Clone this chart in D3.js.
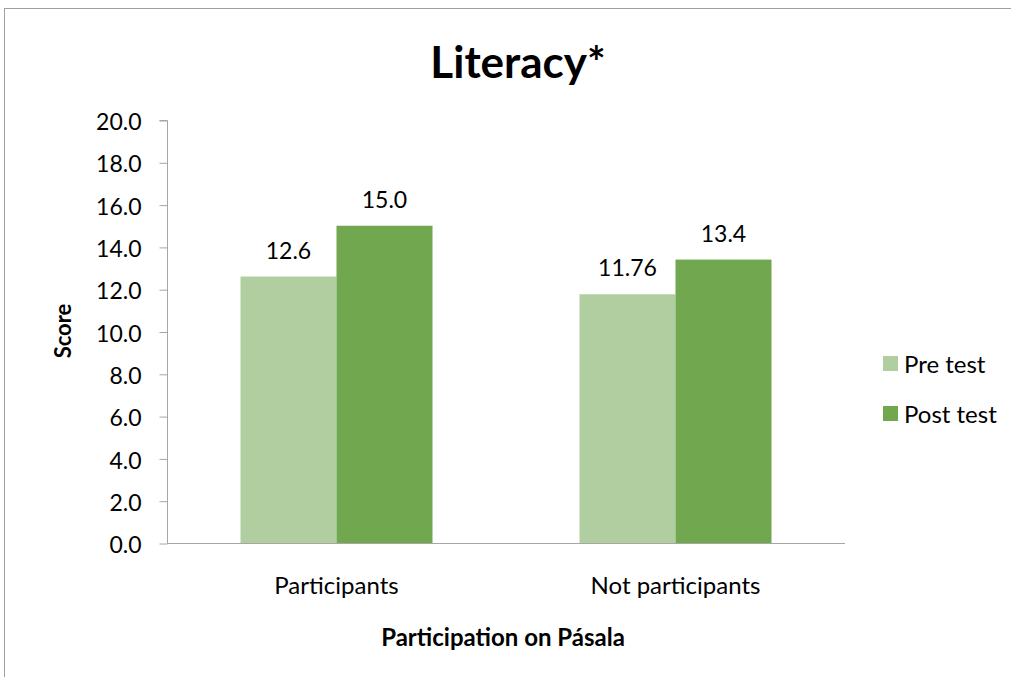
<!DOCTYPE html>
<html>
<head>
<meta charset="utf-8">
<script src="https://cdn.jsdelivr.net/npm/d3@7"></script>
<style>
  html, body { margin: 0; padding: 0; background: #fff; }
  svg { display: block; }
  text { font-family: Lato, "Open Sans", sans-serif; fill: #000; }
</style>
</head>
<body>
<svg id="chart" width="1011" height="677"></svg>
<script>
// Literacy scores by participation group
const categories = ["Participants", "Not participants"];
const seriesNames = ["Pre test", "Post test"];
const preTest = [12.6, 11.76];
const postTest = [15.0, 13.4];
const preLabels = ["12.6", "11.76"];
const postLabels = ["15.0", "13.4"];
const yTicks = [0, 2, 4, 6, 8, 10, 12, 14, 16, 18, 20];
const colors = ["#b1cea1", "#71a84f"];

const svg = d3.select("#chart");
const plot = { left: 167, right: 845, top: 120, bottom: 543 };

// outer chart frame
svg.append("rect")
  .attr("x", 4.5).attr("y", 8.5)
  .attr("width", 1100).attr("height", 800)
  .attr("fill", "none").attr("stroke", "#a0a0a0").attr("stroke-width", 1);

const x0 = d3.scaleBand().domain(categories).range([plot.left, plot.right]).paddingInner(0).paddingOuter(0);
const barGroup = 192;
const x1 = d3.scaleBand().domain(seriesNames).range([0, barGroup]);
const y = d3.scaleLinear().domain([0, 20]).range([plot.bottom, plot.top]);

// title
svg.append("text")
  .attr("x", 518).attr("y", 78)
  .attr("text-anchor", "middle")
  .style("font-size", "44px").style("font-weight", "bold")
  .text("Literacy*");

// y axis
const yAxis = d3.axisLeft(y).tickValues(yTicks).tickFormat(d3.format(".1f")).tickSize(8).tickPadding(18);
const gy = svg.append("g").attr("transform", `translate(${plot.left + 0.5},0)`).call(yAxis);
gy.select(".domain").attr("stroke", "#a6a6a6").attr("d", `M-8,${plot.top + 0.5}H0V${plot.bottom + 0.5}`);
gy.selectAll(".tick line").attr("stroke", "#a6a6a6").attr("transform", "translate(0,0.5)");
gy.selectAll(".tick text")
  .style("font-size", "23px").style("font-family", "Lato, 'Open Sans', sans-serif")
  .attr("fill", "#000").attr("dy", "0.42em");

// bars
const data = categories.map((c, i) => ({ cat: c, values: [
  { s: seriesNames[0], v: preTest[i], label: preLabels[i] },
  { s: seriesNames[1], v: postTest[i], label: postLabels[i] }
]}));

const groups = svg.append("g").selectAll("g").data(data).join("g")
  .attr("transform", d => `translate(${x0(d.cat) + (x0.bandwidth() - barGroup) / 2},0)`);

groups.selectAll("rect").data(d => d.values).join("rect")
  .attr("x", d => x1(d.s))
  .attr("y", d => y(d.v))
  .attr("width", x1.bandwidth())
  .attr("height", d => y(0) - y(d.v))
  .attr("fill", (d, i) => colors[i]);

groups.selectAll("text.val").data(d => d.values).join("text")
  .attr("class", "val")
  .attr("x", d => x1(d.s) + x1.bandwidth() / 2)
  .attr("y", d => y(d.v) - 18)
  .attr("text-anchor", "middle")
  .style("font-size", "23px")
  .text(d => d.label);

// x axis (baseline only, no ticks)
svg.append("line")
  .attr("x1", plot.left).attr("x2", plot.right)
  .attr("y1", plot.bottom + 0.5).attr("y2", plot.bottom + 0.5)
  .attr("stroke", "#a6a6a6");

svg.append("g").selectAll("text").data(categories).join("text")
  .attr("x", d => x0(d) + x0.bandwidth() / 2)
  .attr("y", 594)
  .attr("text-anchor", "middle")
  .style("font-size", "24px")
  .text(d => d);

// axis titles
svg.append("text")
  .attr("x", 503).attr("y", 646)
  .attr("text-anchor", "middle")
  .style("font-size", "24px").style("font-weight", "bold")
  .text("Participation on Pásala");

svg.append("text")
  .attr("transform", "translate(71,331) rotate(-90)")
  .attr("text-anchor", "middle")
  .style("font-size", "22px").style("font-weight", "bold")
  .text("Score");

// legend
const legend = svg.append("g").selectAll("g").data(seriesNames).join("g")
  .attr("transform", (d, i) => `translate(883,${356 + i * 50})`);
legend.append("rect").attr("width", 15).attr("height", 15).attr("fill", (d, i) => colors[i]);
legend.append("text").attr("x", 21).attr("y", 17).style("font-size", "24px").text(d => d);
</script>
</body>
</html>
